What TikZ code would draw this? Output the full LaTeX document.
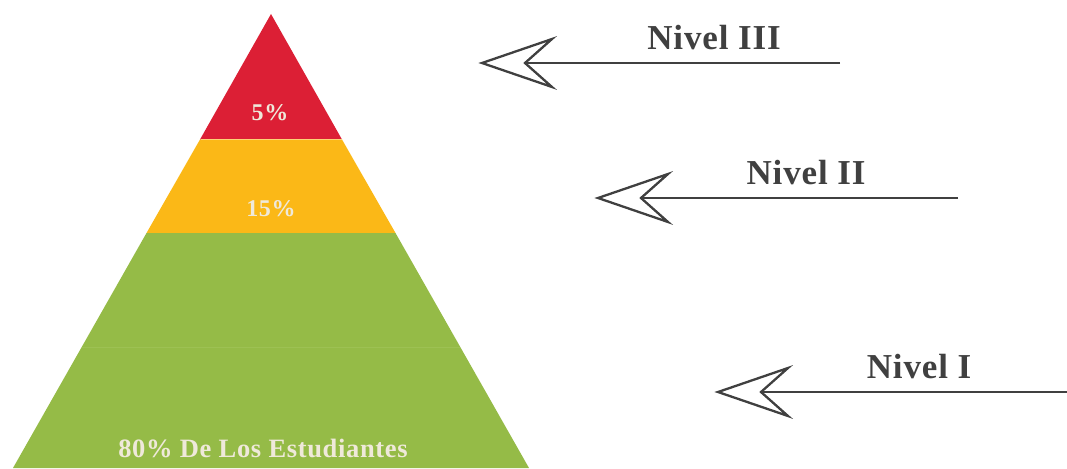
\documentclass[tikz,border=0pt]{standalone}
\usepackage{fontspec}
\setmainfont{Liberation Serif}
\newfontfamily\lblfont[LetterSpace=2.5]{Liberation Serif}
\definecolor{pred}{HTML}{DC1F35}
\definecolor{pyel}{HTML}{FBB817}
\definecolor{pgrn}{HTML}{95BB47}
\definecolor{pgrnl}{HTML}{9DC153}
\definecolor{ptxt}{HTML}{EFE9DA}
\definecolor{agray}{HTML}{404040}
\begin{document}
\begin{tikzpicture}[x=1pt,y=-1pt,
  pcttext/.style={text=ptxt,font=\lblfont\bfseries\fontsize{24}{26}\selectfont,anchor=base},
  lvltext/.style={text=agray,font=\lblfont\bfseries\fontsize{35}{38}\selectfont,anchor=base},
  arrline/.style={draw=agray,line width=2.3pt},
  arrhead/.style={draw=agray,line width=2.3pt,line join=miter,fill=white}]
\useasboundingbox (0,0) rectangle (1067,468);
% pyramid
\fill[pred] (271,14) -- (342,139.5) -- (200,139.5) -- cycle;
\fill[pyel] (200,139.5) -- (342,139.5) -- (395.5,233) -- (146.5,233) -- cycle;
\fill[pgrn] (146.5,233) -- (395.5,233) -- (529,468) -- (13,468) -- cycle;
\draw[pgrnl,line width=0.8pt] (82,347) -- (460,347);
\draw[pyel!60!white,line width=0.6pt] (200.5,139.5) -- (341.5,139.5);
\node[pcttext] (p5) at (270,121) {5\%};
\node[pcttext] (p15) at (271,216) {15\%};
\node[pcttext,font=\lblfont\bfseries\fontsize{26.5}{28}\selectfont] (p80) at (263,457) {80\% De Los Estudiantes};
% Nivel III
\coordinate (t3) at (482,63);
\coordinate (s3) at (517,63);
\coordinate (e3) at (840,63);
\draw[arrline] (e3) -- (s3);
\draw[arrhead] (t3) -- ++(70,-24) -- ++(-27,24) -- ++(27,24) -- cycle;
\node[lvltext] (n3) at (714,50) {Nivel III};
% Nivel II
\coordinate (t2) at (598,198);
\coordinate (s2) at (633,198);
\coordinate (e2) at (958,198);
\draw[arrline] (e2) -- (s2);
\draw[arrhead] (t2) -- ++(70,-24) -- ++(-27,24) -- ++(27,24) -- cycle;
\node[lvltext] (n2) at (806,184) {Nivel II};
% Nivel I
\coordinate (t1) at (718,392);
\coordinate (s1) at (753,392);
\coordinate (e1) at (1067,392);
\draw[arrline] (e1) -- (s1);
\draw[arrhead] (t1) -- ++(70,-24) -- ++(-27,24) -- ++(27,24) -- cycle;
\node[lvltext] (n1) at (919,378) {Nivel I};
\end{tikzpicture}
\end{document}
